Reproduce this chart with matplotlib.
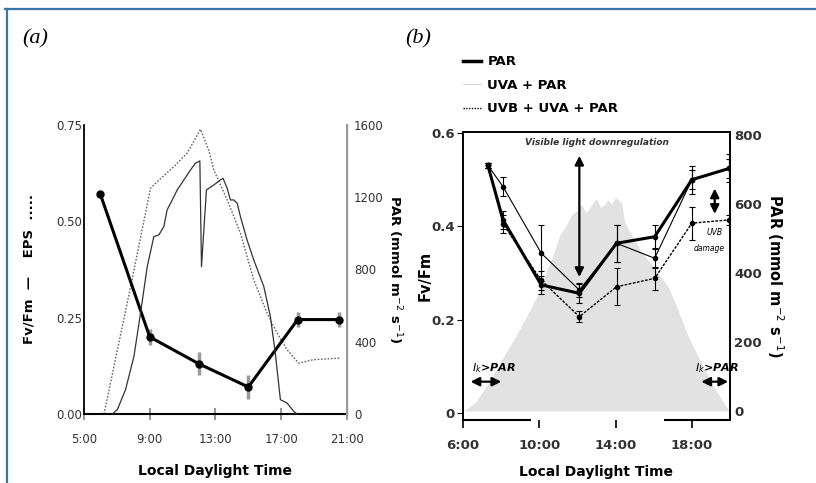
import matplotlib
matplotlib.use('Agg')
import matplotlib.pyplot as plt
from matplotlib.lines import Line2D
from matplotlib.transforms import ScaledTranslation

# panel (a): daily course, hours of local daylight time
fv_time = [6.0, 9.0, 12.0, 15.0, 18.0, 20.5]
fv_fm = [0.57, 0.20, 0.13, 0.07, 0.245, 0.245]
fv_err = [0.0, 0.02, 0.03, 0.03, 0.02, 0.02]

par_a_time = [6.72, 7.03, 7.53, 8.04, 8.44, 8.85, 9.25, 9.56, 9.86, 10.06, 10.37, 10.67,
              11.08, 11.48, 11.78, 12.05, 12.15, 12.45, 12.90, 13.30, 13.46, 13.71, 13.91,
              14.11, 14.32, 14.52, 14.92, 15.33, 15.94, 16.34, 16.64, 16.95, 17.35, 17.76, 17.96]
par_a = [0, 24, 135, 319, 558, 816, 982, 992, 1038, 1130, 1185, 1240,
         1296, 1351, 1388, 1401, 816, 1240, 1268, 1296, 1305, 1250, 1185,
         1185, 1167, 1093, 964, 853, 706, 540, 337, 79, 61, 15, 0]

eps_time = [6.22, 7.84, 9.05, 9.46, 10.47, 11.28, 12.09, 12.59, 12.90, 13.71, 14.52,
            15.33, 16.14, 16.75, 17.35, 18.06, 18.97, 20.59]
eps = [0.0, 0.331, 0.586, 0.603, 0.642, 0.677, 0.739, 0.685, 0.633, 0.556, 0.469,
       0.348, 0.262, 0.210, 0.167, 0.132, 0.141, 0.145]

# panel (b): Fv/Fm under the three light treatments
b_time = [7.3, 8.1, 10.1, 12.1, 14.05, 16.05, 18.0, 19.95]
fv_par = [0.531, 0.414, 0.275, 0.257, 0.364, 0.378, 0.50, 0.524]
fv_par_err = [0.005, 0.02, 0.02, 0.02, 0.04, 0.025, 0.03, 0.03]
fv_uva = [0.531, 0.485, 0.343, 0.264, 0.364, 0.332, 0.50, 0.524]
fv_uva_err = [0.005, 0.02, 0.06, 0.015, 0.04, 0.02, 0.02, 0.02]
fv_uvb = [0.531, 0.405, 0.285, 0.207, 0.271, 0.289, 0.407, 0.414]
fv_uvb_err = [0.005, 0.02, 0.02, 0.012, 0.04, 0.025, 0.035, 0.01]

par_b_time = [6.05, 6.68, 7.37, 8.09, 8.79, 9.47, 10.0, 10.37, 10.72, 11.07, 11.42, 11.68,
              11.95, 12.21, 12.45, 12.74, 13.0, 13.2, 13.42, 13.6, 13.79, 14.0, 14.32,
              14.47, 14.84, 15.37, 16.05, 16.79, 17.32, 17.84, 18.37, 18.89, 19.42, 19.95]
par_b = [0, 27, 85, 154, 220, 288, 346, 404, 452, 510, 539, 568,
         580, 600, 575, 597, 616, 590, 597, 612, 600, 620, 603,
         548, 510, 461, 414, 357, 287, 212, 154, 96, 46, 0]

a_xticks = [5, 9, 13, 17, 21]
a_xlabels = ['5:00', '9:00', '13:00', '17:00', '21:00']
b_xticks = [6, 10, 14, 18]
b_xlabels = ['6:00', '10:00', '14:00', '18:00']

fig = plt.figure(figsize=(8.16, 4.83), dpi=100)

# ---------------- panel (a)
ax1 = fig.add_axes([0.1029, 0.1429, 0.3223, 0.5983])
ax1r = ax1.twinx()
ax1r.plot(par_a_time, par_a, color='#333333', lw=0.9)
ax1.plot(eps_time, eps, color='#666666', lw=1.0, ls=(0, (1.2, 1.2)))
ax1.errorbar(fv_time, fv_fm, yerr=fv_err, color='black', lw=2.2, marker='o', ms=5,
             ecolor='#999999', elinewidth=2.5, capsize=0, zorder=5)
ax1.set_xlim(5, 21)
ax1.set_ylim(0, 0.75)
ax1r.set_ylim(0, 1600)
ax1.set_xticks(a_xticks)
ax1.set_xticklabels(a_xlabels)
ax1.set_yticks([0, 0.25, 0.5, 0.75])
ax1.set_yticklabels(['0.00', '0.25', '0.50', '0.75'])
ax1r.set_yticks([0, 400, 800, 1200, 1600])
for a in (ax1, ax1r):
    a.spines['top'].set_visible(False)
ax1.spines['left'].set_linewidth(1.3)
ax1.spines['bottom'].set_linewidth(1.5)
ax1r.spines['left'].set_visible(False)
ax1r.spines['bottom'].set_visible(False)
ax1r.spines['right'].set_color('#999999')
ax1r.spines['right'].set_linewidth(1.5)
ax1.tick_params(axis='y', length=0, pad=1, labelsize=8.5, labelcolor='#333333')
ax1.tick_params(axis='x', direction='inout', length=9, width=1.5, color='#999999',
                pad=9, labelsize=8.5, labelcolor='#333333')
ax1r.tick_params(axis='y', length=0, pad=5, labelsize=8.5, labelcolor='#333333')
ax1.set_xlabel('Local Daylight Time', fontsize=10, fontweight='bold', labelpad=13)
ax1.set_ylabel('Fv/Fm  —    EPS  .....', fontsize=9.5, fontweight='bold')
ax1.yaxis.set_label_coords(-0.186, 0.5)
ax1r.set_ylabel('PAR (mmol m$^{-2}$ s$^{-1}$)', fontsize=9.5, fontweight='bold',
                rotation=270, va='center')
ax1r.yaxis.set_label_coords(1.18, 0.5)

# ---------------- panel (b)
ax2 = fig.add_axes([0.5674, 0.1304, 0.3272, 0.5963])
ax2r = ax2.twinx()
ax2.set_zorder(2)
ax2.patch.set_visible(False)
ax2r.fill_between(par_b_time, par_b, color='#e2e2e2', lw=0)
ax2r.set_ylim(-26, 809)
ax2r.set_yticks([0, 200, 400, 600, 800])

eb = dict(elinewidth=0.8, capsize=2, capthick=0.8, ecolor='black', ms=3, marker='o')
h_par = ax2.errorbar(b_time, fv_par, yerr=fv_par_err, color='black', lw=2.2, **eb)
h_uva = ax2.errorbar(b_time, fv_uva, yerr=fv_uva_err, color='black', lw=0.8, **eb)
h_uvb = ax2.errorbar(b_time, fv_uvb, yerr=fv_uvb_err, color='black', lw=1.0,
                     ls=(0, (2, 1)), **eb)
ax2.set_xlim(6, 20)
ax2.set_ylim(-0.014, 0.602)
ax2.set_yticks([0, 0.2, 0.4, 0.6])
ax2.set_yticklabels(['0', '0.2', '0.4', '0.6'])
ax2.set_xticks(b_xticks)
ax2.set_xticklabels(b_xlabels)
shift = ScaledTranslation(0.14, 0, fig.dpi_scale_trans)
for lab in ax2.get_xticklabels():
    lab.set_transform(lab.get_transform() + shift)
for a in (ax2, ax2r):
    for s in a.spines.values():
        s.set_linewidth(1.2)
ax2.spines['bottom'].set_visible(False)
ax2r.spines['bottom'].set_visible(False)
ax2.hlines([-0.014, -0.014], [6, 16.55], [9.55, 20], color='black', lw=1.5, clip_on=False)
ax2.tick_params(axis='x', direction='out', length=6, width=1.2, pad=8)
ax2.tick_params(axis='y', direction='out', length=4, pad=2)
ax2r.tick_params(axis='y', length=0, pad=3)
for a in (ax2, ax2r):
    for lab in a.get_xticklabels() + a.get_yticklabels():
        lab.set_fontsize(9.5)
        lab.set_fontweight('bold')
        lab.set_color('#333333')
ax2.set_xlabel('Local Daylight Time', fontsize=10, fontweight='bold', labelpad=9)
ax2.set_ylabel('Fv/Fm', fontsize=10.5, fontweight='bold', va='center')
ax2.yaxis.set_label_coords(-0.142, 0.5)
ax2r.set_ylabel('PAR (mmol m$^{-2}$ s$^{-1}$)', fontsize=10.5, fontweight='bold',
                rotation=270, va='center')
ax2r.yaxis.set_label_coords(1.17, 0.5)

arrow = dict(arrowstyle='<|-|>', color='black', lw=1.6, mutation_scale=13)
ax2.annotate('', xy=(12.1, 0.557), xytext=(12.1, 0.286), arrowprops=arrow)
ax2.annotate('', xy=(19.2, 0.487), xytext=(19.2, 0.421), arrowprops=arrow)
ax2.annotate('', xy=(6.25, 0.068), xytext=(8.15, 0.068), arrowprops=arrow)
ax2.annotate('', xy=(18.35, 0.068), xytext=(20.05, 0.068), arrowprops=arrow,
             annotation_clip=False)
ax2.text(13.0, 0.579, 'Visible light downregulation', fontsize=6.5, style='italic',
         fontweight='bold', ha='center', va='center', color='#333333')
ax2.text(7.6, 0.097, '$I_k$>PAR', fontsize=8, style='italic', fontweight='bold',
         ha='center', va='center')
ax2.text(19.3, 0.097, '$I_k$>PAR', fontsize=8, style='italic', fontweight='bold',
         ha='center', va='center')
ax2.text(18.75, 0.388, 'UVB', fontsize=5.5, style='italic', ha='left', va='center')
ax2.text(18.9, 0.352, 'damage', fontsize=5.5, style='italic', ha='center', va='center')

ax2.legend([Line2D([], [], color='black', lw=2.5),
            Line2D([], [], color='black', lw=0.4, alpha=0.3),
            Line2D([], [], color='black', lw=1.0, ls=(0, (1, 1)))],
           ['PAR', 'UVA + PAR', 'UVB + UVA + PAR'],
           loc='lower left', bbox_to_anchor=(0.0, 1.058), frameon=False,
           handlelength=1.4, handletextpad=0.45, labelspacing=0.8,
           prop={'weight': 'bold', 'size': 9.5}, borderaxespad=0, borderpad=0)

# panel letters and frame
fig.text(0.027, 0.92, '(a)', fontsize=16, style='italic', family='Liberation Serif',
         va='center')
fig.text(0.496, 0.92, '(b)', fontsize=16, style='italic', family='Liberation Serif',
         va='center')
fig.add_artist(Line2D([5 / 816, 1], [1 - 9 / 483, 1 - 9 / 483], color='#3a76a8', lw=1.6))
fig.add_artist(Line2D([7 / 816, 7 / 816], [0, 1 - 9 / 483], color='#3a76a8', lw=1.6))

fig.savefig('out.png', dpi=100)
